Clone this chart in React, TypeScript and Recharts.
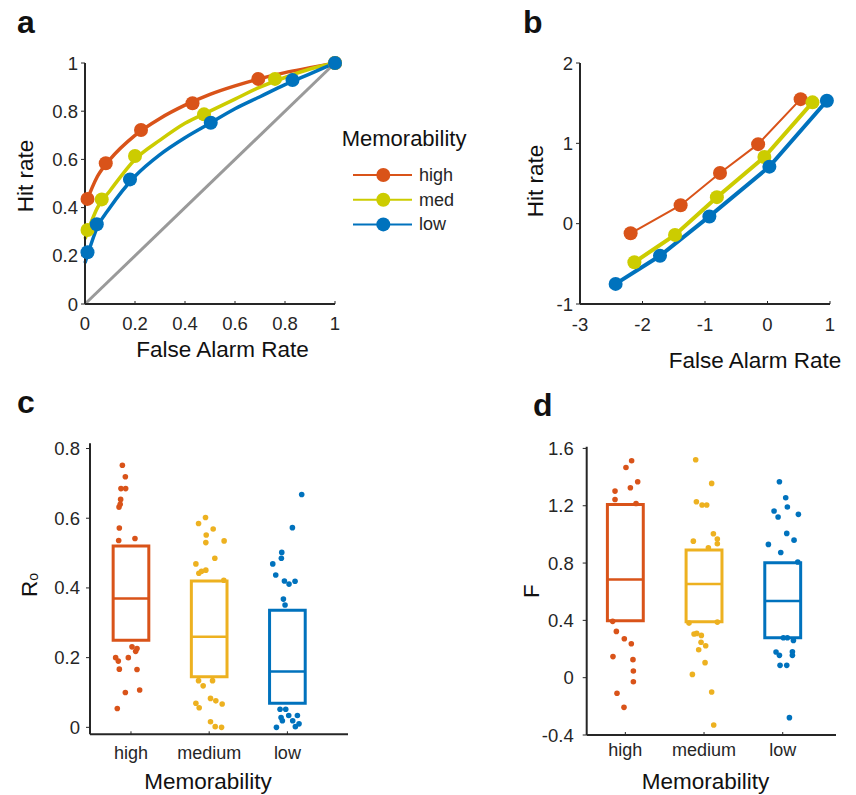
import React from 'react';
import {
  ComposedChart, Line, Scatter, XAxis, YAxis, ReferenceLine, ReferenceArea, Legend,
} from 'recharts';

const FONT = '"Liberation Sans", Arial, Helvetica, sans-serif';
const AX = '#262626';
const ORANGE = '#D95319';
const LIME = '#CCCC00';
const GOLD = '#EDB120';
const BLUE = '#0072BD';

// ---- panel a: ROC points and fitted curves
const rocHighFa = [0.01, 0.083, 0.224, 0.43, 0.693, 1];
const rocHighHit = [0.436, 0.584, 0.722, 0.833, 0.934, 1];
const rocMedFa = [0.01, 0.067, 0.2, 0.476, 0.76, 1];
const rocMedHit = [0.307, 0.434, 0.614, 0.787, 0.934, 1];
const rocLowFa = [0.01, 0.047, 0.18, 0.503, 0.83, 1];
const rocLowHit = [0.215, 0.331, 0.517, 0.752, 0.929, 1];

const fitFa = [0, 0.05, 0.1, 0.2, 0.3, 0.4, 0.5, 0.6, 0.7, 0.8, 0.9, 1];
const fitHigh = [0.41, 0.53, 0.6, 0.7, 0.77, 0.825, 0.87, 0.905, 0.935, 0.96, 0.98, 1];
const fitMed = [0.27, 0.4, 0.47, 0.6, 0.68, 0.75, 0.8, 0.85, 0.9, 0.94, 0.975, 1];
const fitLow = [0.17, 0.32, 0.4, 0.53, 0.62, 0.69, 0.75, 0.81, 0.86, 0.91, 0.955, 1];

const chance = [0, 1];

// ---- panel b: z-transformed ROC
const zHighFa = [-2.19, -1.39, -0.76, -0.15, 0.53];
const zHighHit = [-0.12, 0.23, 0.63, 0.99, 1.55];
const zMedFa = [-2.13, -1.48, -0.81, -0.05, 0.72];
const zMedHit = [-0.48, -0.14, 0.33, 0.83, 1.51];
const zLowFa = [-2.43, -1.72, -0.93, 0.03, 0.95];
const zLowHit = [-0.75, -0.4, 0.09, 0.71, 1.53];

// ---- panels c, d
const groups = ['high', 'medium', 'low'];

const roQ1 = [0.25, 0.145, 0.069];
const roMedian = [0.37, 0.26, 0.16];
const roQ3 = [0.52, 0.42, 0.336];

const roHigh = [
  [0.89, 0.752], [0.928, 0.719], [0.872, 0.685], [0.932, 0.685], [0.868, 0.654], [0.847, 0.632],
  [0.862, 0.64], [0.851, 0.572], [0.843, 0.536], [1.051, 0.542], [1.013, 0.231], [1.077, 0.226],
  [1.06, 0.218], [0.804, 0.2], [0.838, 0.19], [0.966, 0.2], [0.851, 0.167], [1.077, 0.166],
  [0.928, 0.1], [1.111, 0.107], [0.825, 0.054],
];
const roMed = [
  [1.953, 0.602], [1.864, 0.585], [2.051, 0.569], [1.962, 0.552], [1.957, 0.53], [2.191, 0.535],
  [2.072, 0.485], [1.83, 0.469], [1.868, 0.442], [1.902, 0.448], [1.957, 0.451], [2.187, 0.422],
  [1.864, 0.134], [2.043, 0.134], [1.923, 0.119], [2.017, 0.083], [2.085, 0.076], [2.166, 0.067],
  [1.83, 0.069], [1.872, 0.056], [2.017, 0.016], [2.077, 0.002], [2.158, 0],
];
const roLow = [
  [3.183, 0.668], [3.064, 0.573], [2.928, 0.502], [2.923, 0.485], [2.813, 0.469], [2.851, 0.437],
  [2.962, 0.42], [3.021, 0.411], [3.098, 0.419], [2.949, 0.368], [2.97, 0.351], [2.906, 0.052],
  [2.979, 0.052], [3.017, 0.034], [3.128, 0.034], [2.919, 0.028], [2.936, 0.019], [3.068, 0.019],
  [3.149, 0.01], [3.102, 0.002], [2.86, 0],
];

const fQ1 = [0.398, 0.391, 0.279];
const fMedian = [0.686, 0.653, 0.535];
const fQ3 = [1.209, 0.891, 0.802];

const fHigh = [
  [1.08, 1.514], [1.008, 1.467], [0.869, 1.302], [1.064, 1.326], [1.157, 1.367], [0.869, 1.244],
  [1.136, 1.216], [0.839, 0.393], [0.886, 0.323], [0.987, 0.272], [1.076, 0.237], [0.843, 0.147],
  [1.097, 0.126], [1.102, 0.047], [1.102, -0.028], [0.894, -0.109], [0.983, -0.207],
];
const fMed = [
  [1.894, 1.521], [2.097, 1.356], [1.903, 1.228], [1.975, 1.205], [2.034, 1.205], [2.119, 1.005],
  [1.864, 0.953], [2.169, 0.967], [2.169, 0.935], [2.055, 0.907], [1.809, 0.381], [2.169, 0.388],
  [1.873, 0.305], [1.907, 0.309], [1.966, 0.295], [1.962, 0.247], [2.021, 0.223], [1.932, 0.195],
  [2.013, 0.105], [1.852, 0.023], [2.097, -0.1], [2.123, -0.33],
];
const fLow = [
  [2.958, 1.367], [3.038, 1.256], [2.89, 1.163], [3.059, 1.191], [2.941, 1.121], [3.199, 1.14],
  [3.051, 1.007], [3.144, 0.96], [2.818, 0.93], [2.975, 0.874], [3.191, 0.807], [3.008, 0.279],
  [3.059, 0.279], [3.136, 0.26], [2.915, 0.179], [2.958, 0.156], [3.123, 0.181], [3.123, 0.156],
  [2.966, 0.086], [3.051, 0.086], [3.085, -0.279],
];

const zip = (xs: number[], ys: number[]) => xs.map((x, i) => ({ x, y: ys[i] }));
const pts = (arr: number[][]) => arr.map(([x, y]) => ({ x, y }));

const rocSeries = [
  { name: 'high', color: ORANGE, dots: zip(rocHighFa, rocHighHit), fit: zip(fitFa, fitHigh), z: zip(zHighFa, zHighHit), zw: 2 },
  { name: 'med', color: LIME, dots: zip(rocMedFa, rocMedHit), fit: zip(fitFa, fitMed), z: zip(zMedFa, zMedHit), zw: 4 },
  { name: 'low', color: BLUE, dots: zip(rocLowFa, rocLowHit), fit: zip(fitFa, fitLow), z: zip(zLowFa, zLowHit), zw: 4 },
];
const boxColors = [ORANGE, GOLD, BLUE];
const BOX_HALF = 0.228;

const tickStyle = { fill: AX, fontSize: 18.5, fontFamily: FONT };
const axisLine = { stroke: AX, strokeWidth: 2 };
const tickLine = { stroke: AX, strokeWidth: 1 };

const bigDot = (color: string, r: number) => (p: any) => (
  <circle cx={p.cx} cy={p.cy} r={r} fill={color} />
);

function RocLegend() {
  return (
    <svg width={140} height={115} style={{ display: 'block', overflow: 'visible' }}>
      <text x={1.7} y={26} fontSize={22} fontFamily={FONT} fill="#111">Memorability</text>
      {rocSeries.map((s, i) => {
        const y = 55 + i * 24.7;
        return (
          <g key={s.name}>
            <line x1={13} x2={72} y1={y} y2={y} stroke={s.color} strokeWidth={2} />
            <circle cx={43.3} cy={y} r={7} fill={s.color} />
            <text x={79} y={y + 6} fontSize={18} fontFamily={FONT} fill={AX}>{s.name}</text>
          </g>
        );
      })}
    </svg>
  );
}

function PanelA() {
  return (
    <ComposedChart width={480} height={380} margin={{ top: 63, right: 145, bottom: 46, left: 25 }}>
      <XAxis type="number" dataKey="x" domain={[0, 1]} ticks={[0, 0.2, 0.4, 0.6, 0.8, 1]}
        interval={0} height={30} tickSize={-3} tickMargin={15.5} tick={tickStyle} axisLine={axisLine} tickLine={tickLine} />
      <YAxis type="number" dataKey="y" domain={[0, 1]} ticks={[0, 0.2, 0.4, 0.6, 0.8, 1]}
        interval={0} width={60} tickSize={4} tickMargin={3} tick={tickStyle} axisLine={axisLine} tickLine={tickLine} />
      <Line data={zip(chance, chance)} dataKey="y" type="linear" stroke="#9a9a9a" strokeWidth={3} dot={false} isAnimationActive={false} />
      {rocSeries.flatMap(s => [
        <Line key={s.name + 'f'} data={s.fit} dataKey="y" type="monotone" stroke={s.color} strokeWidth={3.5} dot={false} isAnimationActive={false} />,
        <Scatter key={s.name + 'd'} data={s.dots} fill={s.color} shape={bigDot(s.color, 7)} isAnimationActive={false} />,
      ])}
      <Legend layout="vertical" align="center" verticalAlign="middle" content={() => <RocLegend />}
        wrapperStyle={{ left: 340, top: 120, width: 140, height: 115 }} />
    </ComposedChart>
  );
}

function PanelB() {
  return (
    <ComposedChart width={376} height={380} margin={{ top: 63, right: 26, bottom: 46, left: 50 }}>
      <XAxis type="number" dataKey="x" domain={[-3, 1]} ticks={[-3, -2, -1, 0, 1]}
        interval={0} height={30} tickSize={-3} tickMargin={17} tick={tickStyle} axisLine={axisLine} tickLine={tickLine} />
      <YAxis type="number" dataKey="y" domain={[-1, 2]} ticks={[-1, 0, 1, 2]}
        interval={0} width={50} tickSize={4} tickMargin={3} tick={tickStyle} axisLine={axisLine} tickLine={tickLine} />
      {rocSeries.map(s => (
        <Line key={s.name} data={s.z} dataKey="y" type="linear" stroke={s.color} strokeWidth={s.zw}
          dot={{ r: 7, fill: s.color, stroke: s.color, strokeWidth: 0 }} isAnimationActive={false} />
      ))}
    </ComposedChart>
  );
}

function BoxPanel({ q1, med, q3, dots, domainX, domainY, ticksY, width, height, margin, tickMarginY, tickMarginX }: any) {
  return (
    <ComposedChart width={width} height={height} margin={margin}>
      <XAxis type="number" dataKey="x" domain={domainX} ticks={[1, 2, 3]} interval={0}
        tickFormatter={(v: number) => groups[v - 1]} height={30} tickSize={-3} tickMargin={tickMarginX}
        tick={{ ...tickStyle, fontSize: 18 }} axisLine={axisLine} tickLine={tickLine} />
      <YAxis type="number" dataKey="y" domain={domainY} ticks={ticksY} interval={0}
        width={60} tickSize={4} tickMargin={tickMarginY} tick={tickStyle} axisLine={axisLine} tickLine={tickLine} />
      {groups.map((g, i) => (
        <Scatter key={g} data={pts(dots[i])} fill={boxColors[i]} shape={bigDot(boxColors[i], 2.8)} isAnimationActive={false} />
      ))}
      {groups.map((g, i) => (
        <ReferenceArea key={g + 'box'} x1={i + 1 - BOX_HALF} x2={i + 1 + BOX_HALF} y1={q1[i]} y2={q3[i]}
          fill="#ffffff" fillOpacity={1} stroke={boxColors[i]} strokeWidth={3} />
      ))}
      {groups.map((g, i) => (
        <ReferenceLine key={g + 'med'} segment={[{ x: i + 1 - BOX_HALF, y: med[i] }, { x: i + 1 + BOX_HALF, y: med[i] }]}
          stroke={boxColors[i]} strokeWidth={2.5} />
      ))}
    </ComposedChart>
  );
}

const abs = (left: number, top: number): React.CSSProperties => ({ position: 'absolute', left, top });

export default function App() {
  const lbl = { fontFamily: FONT, fill: '#111' };
  return (
    <div style={{ position: 'absolute', left: 0, top: 0, width: 856, height: 795, background: '#fff' }}>
      <div style={abs(0, 0)}><PanelA /></div>
      <div style={abs(480, 0)}><PanelB /></div>
      <div style={abs(0, 380)}>
        <BoxPanel q1={roQ1} med={roMedian} q3={roQ3} dots={[roHigh, roMed, roLow]}
          domainX={[0.476, 3.775]} domainY={[-0.02, 0.815]} ticksY={[0, 0.2, 0.4, 0.6, 0.8]}
          width={430} height={415} margin={{ top: 63.3, right: 82, bottom: 30.7, left: 30 }}
          tickMarginY={6} tickMarginX={14.6} />
      </div>
      <div style={abs(500, 380)}>
        <BoxPanel q1={fQ1} med={fMedian} q3={fQ3} dots={[fHigh, fMed, fLow]}
          domainX={[0.509, 3.677]} domainY={[-0.4, 1.612]} ticksY={[-0.4, 0, 0.4, 0.8, 1.2, 1.6]}
          width={356} height={415} margin={{ top: 66.7, right: 20, bottom: 30, left: 26.7 }}
          tickMarginY={9} tickMarginX={11} />
      </div>
      <svg width={856} height={795} style={{ position: 'absolute', left: 0, top: 0, pointerEvents: 'none' }}>
        <g fontWeight="bold" fontSize={32} {...lbl}>
          <text x={17} y={33}>a</text>
          <text x={523} y={33}>b</text>
          <text x={17} y={413}>c</text>
          <text x={533} y={416}>d</text>
        </g>
        <g fontSize={22.5} textAnchor="middle" {...lbl}>
          <text x={33} y={176} transform="rotate(-90 33 176)">Hit rate</text>
          <text x={543} y={181} transform="rotate(-90 543 181)">Hit rate</text>
          <text x={222.5} y={357}>False Alarm Rate</text>
          <text x={755} y={368}>False Alarm Rate</text>
          <text x={37} y={585} transform="rotate(-90 37 585)">R<tspan fontSize={14} dy={1}>o</tspan></text>
          <text x={539} y={591} transform="rotate(-90 539 591)">F</text>
          <text x={208} y={789}>Memorability</text>
          <text x={705.5} y={789}>Memorability</text>
        </g>
      </svg>
    </div>
  );
}
